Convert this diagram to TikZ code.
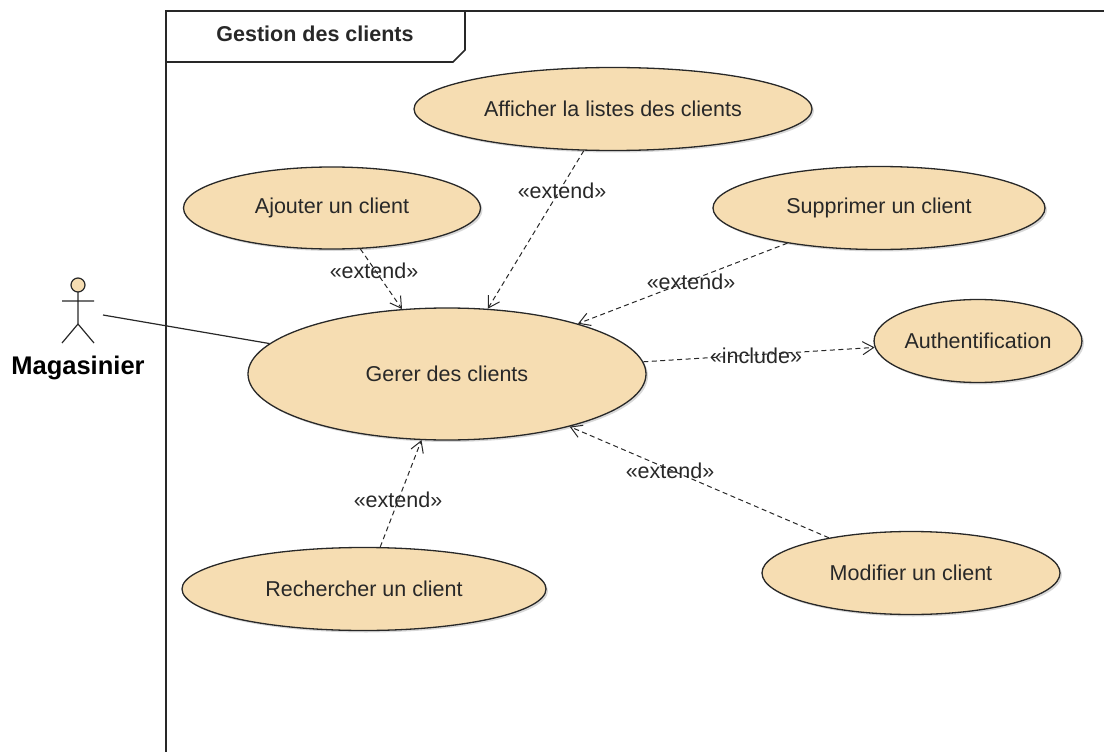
\documentclass[tikz,border=0pt]{standalone}
\usepackage{fontspec}
\setmainfont{Liberation Sans}
\usetikzlibrary{shapes.geometric,arrows.meta,shadows}
\definecolor{uc}{RGB}{246,221,178}
\definecolor{ink}{RGB}{40,40,40}
\tikzset{
 usecase/.style={ellipse,draw=ink,fill=uc,line width=1.3pt,inner sep=0pt,font=\fontsize{21.5}{24}\selectfont,text=ink,
   drop shadow={shadow xshift=2pt,shadow yshift=-2pt,fill=black!30,opacity=.5}},
 dep/.style={draw=ink,dash pattern=on 5pt off 3.5pt,line width=1pt,-{Straight Barb[length=11pt,width=13pt,line width=1pt]}},
 lbl/.style={font=\fontsize{21.5}{24}\selectfont,inner sep=0pt,text=ink},
}
\begin{document}
\begin{tikzpicture}[x=1pt,y=-1pt]
\useasboundingbox (0,0) rectangle (1104,752);
\coordinate (f1) at (1104,11);
\coordinate (f2) at (166,11);
\coordinate (f3) at (166,752);
\coordinate (f4) at (166,62);
\coordinate (f5) at (453,62);
\coordinate (f6) at (465,50);
\coordinate (f7) at (465,11);
\draw[draw=ink,line width=1.6pt] (f1) -- (f2) -- (f3);
\draw[draw=ink,line width=1.6pt] (f4) -- (f5) -- (f6) -- (f7);
\node[font=\bfseries\fontsize{21.5}{24}\selectfont,inner sep=0pt,text=ink] (title) at (315,34) {Gestion des clients};
\node[usecase,minimum width=398pt,minimum height=83pt] (aff) at (613,109) {Afficher la listes des clients};
\node[usecase,minimum width=297pt,minimum height=82pt] (add) at (332,208) {Ajouter un client};
\node[usecase,minimum width=332pt,minimum height=83pt] (sup) at (879,208) {Supprimer un client};
\node[usecase,minimum width=398pt,minimum height=132pt] (ger) at (447,374) {Gerer des clients};
\node[usecase,minimum width=199pt,minimum height=83pt] (aut) at (978,341) {Authentification};
\node[usecase,minimum width=364pt,minimum height=83pt] (rec) at (364,589) {Rechercher un client};
\node[usecase,minimum width=298pt,minimum height=83pt] (mod) at (911,573) {Modifier un client};
% actor
\coordinate (head) at (78,285);
\draw[draw=ink,line width=1.2pt,fill=uc] (head) circle (7);
\coordinate (neck) at (78,292);
\coordinate (hip) at (78,324);
\coordinate (armL) at (62,301);
\coordinate (armR) at (94,301);
\coordinate (legL) at (62,343);
\coordinate (legR) at (94,343);
\draw[draw=ink,line width=1.2pt] (neck) -- (hip) (armL) -- (armR) (legL) -- (hip) -- (legR);
\node[font=\bfseries\fontsize{25.5}{28}\selectfont,inner sep=0pt,text=black] (act) at (78,368) {Magasinier};
\coordinate (as) at (103,315);
\draw[draw=ink,line width=1.2pt] (as) -- (ger);
\draw[dep] (aff.235) -- (ger.58);
\draw[dep] (add) -- (ger);
\draw[dep] (sup) -- (ger);
\draw[dep] (ger) -- (aut);
\draw[dep] (rec) -- (ger);
\draw[dep] (mod) -- (ger);
\node[lbl] (l1) at (562,191) {«extend»};
\node[lbl] (l2) at (374,271) {«extend»};
\node[lbl] (l3) at (691,282) {«extend»};
\node[lbl] (l4) at (756,356) {«include»};
\node[lbl] (l5) at (398,500) {«extend»};
\node[lbl] (l6) at (670,471) {«extend»};
\end{tikzpicture}
\end{document}
